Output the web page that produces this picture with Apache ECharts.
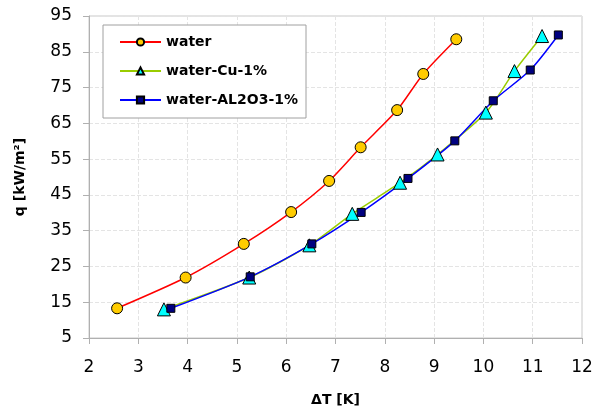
<!DOCTYPE html>
<html><head><meta charset="utf-8">
<script src="https://cdn.jsdelivr.net/npm/echarts@6/dist/echarts.min.js"></script>
<style>html,body{margin:0;padding:0;background:#fff}#c{width:600px;height:416px}</style>
</head><body><div id="c"></div>
<script>
const seriesNames = ['water', 'water-Cu-1%', 'water-AL2O3-1%'];
const waterDT = [2.57, 3.96, 5.14, 6.10, 6.87, 7.51, 8.25, 8.78, 9.45];
const waterQ  = [13.3, 21.9, 31.3, 40.2, 48.9, 58.3, 68.7, 78.8, 88.5];
const cuDT = [3.52, 5.25, 6.47, 7.34, 8.31, 9.07, 10.05, 10.63, 11.19];
const cuQ  = [13.0, 21.9, 30.9, 39.7, 48.4, 56.3, 68.0, 79.6, 89.4];
const alDT = [3.66, 5.27, 6.52, 7.52, 8.47, 9.42, 10.20, 10.95, 11.52];
const alQ  = [13.3, 22.1, 31.3, 40.1, 49.6, 60.1, 71.3, 79.9, 89.7];
const xTicks = {min: 2, max: 12, step: 1};
const yTicks = {min: 5, max: 95, step: 10};

const pair = (xs, ys) => xs.map((x, i) => [x, ys[i]]);
const font = '"DejaVu Sans", sans-serif';
const chart = echarts.init(document.getElementById('c'), null, {renderer: 'canvas'});
chart.setOption({
  animation: false,
  backgroundColor: '#fff',
  grid: {left: 89, right: 18, top: 16, bottom: 78, show: true, borderColor: '#c8c8c8', borderWidth: 1},
  legend: {
    orient: 'vertical', left: 103, top: 25,
    padding: [10, 8, 11, 16], itemGap: 15,
    backgroundColor: '#fff', borderColor: '#a0a0a0', borderWidth: 1,
    itemWidth: 41, itemHeight: 9,
    textStyle: {fontFamily: font, fontWeight: 'bold', fontSize: 14, color: '#000', lineHeight: 14},
    data: seriesNames
  },
  xAxis: {
    type: 'value', min: xTicks.min, max: xTicks.max, interval: xTicks.step,
    name: 'ΔT [K]', nameLocation: 'middle', nameGap: 55,
    nameTextStyle: {fontFamily: font, fontWeight: 'bold', fontSize: 14, color: '#000'},
    axisLine: {show: true, lineStyle: {color: '#b0b0b0'}},
    axisTick: {show: true, length: 6, lineStyle: {color: '#b0b0b0'}},
    axisLabel: {fontFamily: font, fontSize: 17, color: '#000', margin: 21},
    splitLine: {show: true, lineStyle: {color: '#e4e4e4', type: 'dashed'}}
  },
  yAxis: {
    type: 'value', min: yTicks.min, max: yTicks.max, interval: yTicks.step,
    name: 'q [kW/m²]', nameLocation: 'middle', nameGap: 62, nameRotate: 90,
    nameTextStyle: {fontFamily: font, fontWeight: 'bold', fontSize: 14, color: '#000'},
    axisLine: {show: true, lineStyle: {color: '#b0b0b0'}},
    axisTick: {show: true, length: 6, lineStyle: {color: '#b0b0b0'}},
    axisLabel: {fontFamily: font, fontSize: 17, color: '#000', margin: 17},
    splitLine: {show: true, lineStyle: {color: '#e4e4e4', type: 'dashed'}}
  },
  series: [
    {name: seriesNames[0], type: 'line', smooth: 0.25, data: pair(waterDT, waterQ),
     symbol: 'circle', symbolSize: 11,
     lineStyle: {color: '#ff0000', width: 1.5},
     itemStyle: {color: '#ffcc00', borderColor: '#000', borderWidth: 1}},
    {name: seriesNames[1], type: 'line', smooth: 0.25, data: pair(cuDT, cuQ),
     symbol: 'triangle', symbolSize: 13,
     lineStyle: {color: '#99cc00', width: 1.5},
     itemStyle: {color: '#00ffff', borderColor: '#000', borderWidth: 1}},
    {name: seriesNames[2], type: 'line', smooth: 0.25, data: pair(alDT, alQ),
     symbol: 'rect', symbolSize: 8,
     lineStyle: {color: '#0000ff', width: 1.5},
     itemStyle: {color: '#000080', borderColor: '#000', borderWidth: 1}}
  ]
});
</script></body></html>
